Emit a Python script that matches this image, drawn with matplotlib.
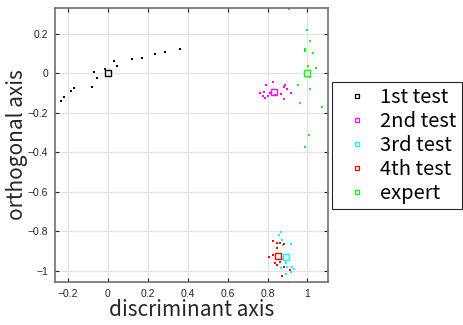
import matplotlib.pyplot as plt
import numpy as np

# discriminant / orthogonal coordinates
test1_x = [-0.237, -0.22, -0.187, -0.17, -0.082, -0.069, -0.055, -0.015,
           0.032, 0.048, 0.12, 0.169, 0.236, 0.286, 0.361]
test1_y = [-0.142, -0.123, -0.09, -0.073, -0.069, 0.005, -0.024, 0.019,
           0.064, 0.037, 0.071, 0.079, 0.096, 0.105, 0.122]
test2_x = [0.792, 0.829, 0.764, 0.78, 0.779, 0.787, 0.804, 0.812,
           0.882, 0.889, 0.896, 0.867, 0.916, 0.881, 0.837]
test2_y = [-0.061, -0.047, -0.103, -0.098, -0.115, -0.125, -0.116, -0.1,
           -0.069, -0.061, -0.081, -0.108, -0.1, -0.133, -0.111]
test3_x = [0.866, 0.856, 0.872, 0.879, 0.916, 0.872, 0.892, 0.924,
           0.934, 0.899, 0.869, 0.916, 0.891, 0.909]
test3_y = [-0.803, -0.82, -0.846, -0.871, -0.866, -0.942, -0.96, -0.984,
           -0.992, -0.981, -0.989, -1.006, -1.019, -1.057]
test4_x = [0.825, 0.845, 0.862, 0.884, 0.845, 0.809, 0.829, 0.837,
           0.862, 0.845, 0.912, 0.884, 0.872]
test4_y = [-0.849, -0.862, -0.862, -0.867, -0.884, -0.933, -0.922, -0.96,
           -0.958, -0.974, -0.997, -0.981, -1.028]
expert_x = [0.906, 0.996, 1.014, 0.987, 0.989, 1.029, 1.001, 1.043,
            1.013, 0.952, 1.013, 0.961, 1.073, 1.008, 0.987]
expert_y = [0.324, 0.218, 0.164, 0.12, 0.113, 0.103, 0.037, 0.025,
            -0.019, -0.062, -0.079, -0.152, -0.171, -0.314, -0.373]

# group centres (square markers)
mean_x = [0.0, 0.834, 0.892, 0.852, 0.997]
mean_y = [0.0, -0.095, -0.93, -0.925, 0.0]

labels = ['1st test', '2nd test', '3rd test', '4th test', 'expert']
colors = ['black', '#ff00ff', '#00ffff', '#ff0000', '#00ff00']
groups = [(test1_x, test1_y), (test2_x, test2_y), (test3_x, test3_y),
          (test4_x, test4_y), (expert_x, expert_y)]

fig = plt.figure(figsize=(4.64, 3.25), dpi=100)
ax = fig.add_axes([55 / 464, 43 / 325, 273 / 464, 274 / 325])

handles = []
for (gx, gy), c, lab, mx, my in zip(groups, colors, labels, mean_x, mean_y):
    ax.plot(gx, gy, 's', color=c, markersize=1.9, markeredgewidth=0)
    ax.plot(mx, my, 's', mfc='none', mec=c, markersize=4.8, mew=1.0)
    h, = ax.plot([], [], 's', mfc='none', mec=c, markersize=3.3, mew=0.9,
                 label=lab)
    handles.append(h)

ax.set_xlim(-0.265, 1.103)
ax.set_ylim(-1.058, 0.33)
ax.set_xticks(np.arange(-0.2, 1.01, 0.2))
ax.set_yticks(np.arange(-1.0, 0.21, 0.2))
ax.set_xticklabels(['\u22120.2', '0', '0.2', '0.4', '0.6', '0.8', '1'])
ax.set_yticklabels(['\u22121', '\u22120.8', '\u22120.6', '\u22120.4',
                    '\u22120.2', '0', '0.2'])
ax.grid(True, color='#e3e3e3', linewidth=0.9)
ax.set_axisbelow(True)
ax.tick_params(direction='in', length=3, width=0.8, colors='#262626',
               labelsize=7.5, top=True, right=True, pad=5)
for lbl in ax.get_xticklabels() + ax.get_yticklabels():
    lbl.set_family('Liberation Sans')
for s in ax.spines.values():
    s.set_color('#707070')
    s.set_linewidth(1.2)

ax.set_xlabel('discriminant axis', fontsize=15, family='Noto Sans CJK JP',
              color='#262626', labelpad=0)
ax.set_ylabel('orthogonal axis', fontsize=15, family='Noto Sans CJK JP',
              color='#262626', labelpad=0)

leg = fig.legend(handles=handles, loc='upper left',
                 bbox_to_anchor=(332 / 464, 1 - 82 / 325),
                 prop={'family': 'Noto Sans CJK JP', 'size': 14.5},
                 fancybox=False, edgecolor='#262626', framealpha=1,
                 handlelength=2.0, handletextpad=0.15, labelspacing=0.15,
                 borderpad=0.25, borderaxespad=0)
leg.get_frame().set_linewidth(0.8)

fig.savefig('out.png', dpi=100)
